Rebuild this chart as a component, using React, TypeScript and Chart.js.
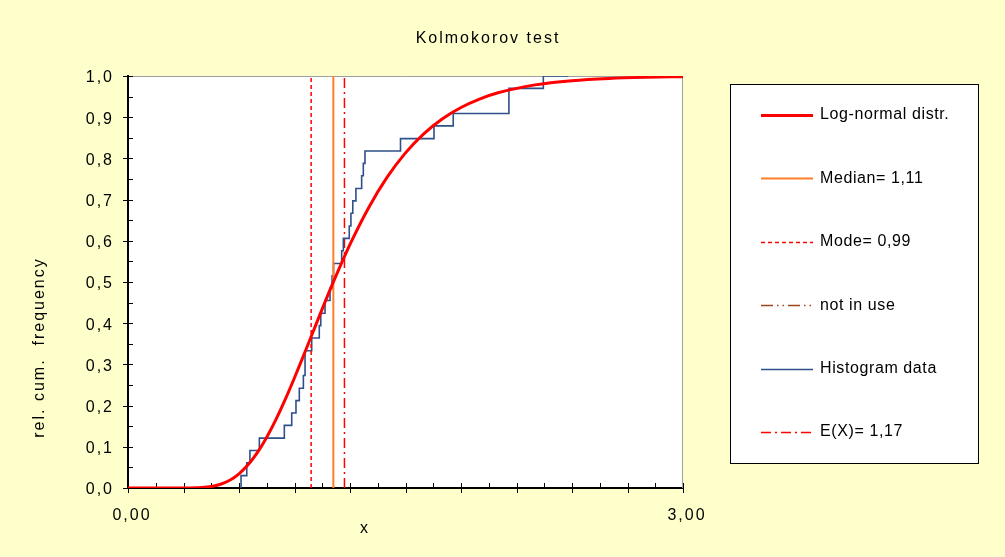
import React, { useEffect, useRef } from 'react';
import { Chart, registerables } from 'chart.js';

Chart.register(...registerables);

const FONT = "'Liberation Sans', Arial, sans-serif";

const titleText = 'Kolmokorov test';
const xAxisTitle = 'x';
const yAxisTitle = 'rel. cum.  frequency';

// Log-normal cumulative distribution
const logNormalX = [0, 0.1, 0.2, 0.3, 0.4, 0.45, 0.5, 0.55, 0.6, 0.65, 0.7, 0.75, 0.8, 0.85, 0.9, 0.95, 1.0, 1.05, 1.1, 1.2, 1.3, 1.4, 1.5, 1.6, 1.7, 1.8, 1.9, 2.0, 2.2, 2.4, 2.6, 2.8, 3.0];
const logNormalY = [0, 0, 0, 0.0001, 0.0013, 0.0038, 0.0092, 0.0189, 0.0345, 0.0568, 0.0864, 0.1232, 0.1665, 0.215, 0.2676, 0.3227, 0.3788, 0.4347, 0.4893, 0.5911, 0.6798, 0.7538, 0.8134, 0.8602, 0.8962, 0.9236, 0.9441, 0.9592, 0.9785, 0.9887, 0.9941, 0.9969, 0.9984];

// Histogram data: step positions and cumulative relative frequencies
const histX = [0.611, 0.611, 0.642, 0.659, 0.71, 0.845, 0.885, 0.908, 0.926, 0.948, 0.957, 0.993, 1.034, 1.042, 1.065, 1.092, 1.103, 1.111, 1.155, 1.164, 1.196, 1.205, 1.215, 1.232, 1.263, 1.272, 1.281, 1.473, 1.654, 1.758, 2.059, 2.245, 2.38];
const histY = [0, 0.03, 0.061, 0.091, 0.121, 0.152, 0.182, 0.212, 0.242, 0.273, 0.333, 0.364, 0.394, 0.424, 0.455, 0.485, 0.515, 0.545, 0.576, 0.606, 0.636, 0.667, 0.697, 0.727, 0.758, 0.788, 0.818, 0.848, 0.879, 0.909, 0.97, 1.0, 1.0];

const medianX = 1.11;
const modeX = 0.99;
const meanX = 1.17;
const vLineY = [0, 1];

const xLabelValues = [0, 3];

const legendLabels = ['Log-normal distr.', 'Median= 1,11', 'Mode= 0,99', 'not in use', 'Histogram data', 'E(X)= 1,17'];

const W = 1005;
const H = 557;

const excelPlugin = {
  id: 'excelLook',
  beforeDraw(chart: any) {
    const { ctx, chartArea: a } = chart;
    ctx.save();
    ctx.fillStyle = '#FFFFCC';
    ctx.fillRect(0, 0, chart.width, chart.height);
    ctx.fillStyle = '#FFFFFF';
    ctx.fillRect(a.left, a.top, a.right - a.left, a.bottom - a.top);
    ctx.restore();
    ctx.letterSpacing = '2px';
  },
  beforeDatasetsDraw(chart: any) {
    const { ctx, chartArea: a, scales } = chart;
    const xs = scales.x;
    const ys = scales.y;
    ctx.save();
    ctx.letterSpacing = '0px';
    ctx.strokeStyle = '#A0A0A0';
    ctx.lineWidth = 1;
    ctx.beginPath();
    ctx.moveTo(a.left, a.top + 0.5);
    ctx.lineTo(a.right - 0.5, a.top + 0.5);
    ctx.lineTo(a.right - 0.5, a.bottom);
    ctx.stroke();
    ctx.strokeStyle = '#000';
    ctx.lineWidth = 1;
    for (let i = 0; i <= 20; i++) {
      const px = Math.round(xs.getPixelForValue(i * 0.15)) + 0.5;
      const major = i % 2 === 0;
      ctx.beginPath();
      ctx.moveTo(px, a.bottom - 5);
      ctx.lineTo(px, major ? a.bottom + 5 : a.bottom);
      ctx.stroke();
    }
    for (let i = 0; i <= 20; i++) {
      const py = Math.round(ys.getPixelForValue(i * 0.05)) + 0.5;
      const major = i % 2 === 0;
      ctx.beginPath();
      ctx.moveTo(major ? a.left - 5 : a.left, py);
      ctx.lineTo(a.left + 5, py);
      ctx.stroke();
    }
    ctx.restore();
  },
  afterDraw(chart: any) {
    const { ctx } = chart;
    ctx.save();
    ctx.fillStyle = '#000';
    ctx.font = `16px ${FONT}`;
    ctx.letterSpacing = '2px';
    ctx.textAlign = 'center';
    ctx.textBaseline = 'alphabetic';
    ctx.fillText(titleText, 488, 43);
    ctx.fillText(xAxisTitle, 365, 533);
    ctx.save();
    ctx.translate(44, 347.5);
    ctx.rotate(-Math.PI / 2);
    ctx.fillText(yAxisTitle, 0, 0);
    ctx.restore();

    // legend box
    ctx.letterSpacing = '0px';
    ctx.fillStyle = '#FFFFFF';
    ctx.fillRect(730, 84, 248, 379);
    ctx.strokeStyle = '#000';
    ctx.lineWidth = 1;
    ctx.strokeRect(730.5, 84.5, 248, 379);
    chart.data.datasets.forEach((ds: any, i: number) => {
      const y = 115 + i * 63.4;
      ctx.save();
      ctx.setLineDash(ds.borderDash || []);
      ctx.strokeStyle = ds.borderColor;
      ctx.lineWidth = ds.borderWidth;
      ctx.beginPath();
      ctx.moveTo(761, Math.round(y) + 0.5);
      ctx.lineTo(813, Math.round(y) + 0.5);
      ctx.stroke();
      ctx.restore();
      ctx.letterSpacing = '0.6px';
      ctx.fillStyle = '#000';
      ctx.font = `16px ${FONT}`;
      ctx.textAlign = 'left';
      ctx.textBaseline = 'middle';
      ctx.fillText(ds.label, 820, y);
    });
    ctx.restore();
  },
};

function vLine(x: number) {
  return vLineY.map((y) => ({ x, y }));
}

export default function App() {
  const canvasRef = useRef<HTMLCanvasElement | null>(null);

  useEffect(() => {
    const canvas = canvasRef.current;
    if (!canvas) return;
    const chart = new Chart(canvas, {
      type: 'line',
      data: {
        datasets: [
          {
            label: legendLabels[0],
            data: logNormalX.map((x, i) => ({ x, y: logNormalY[i] })),
            borderColor: '#FF0000',
            borderWidth: 3,
            pointRadius: 0,
            cubicInterpolationMode: 'monotone',
            fill: false,
          },
          {
            label: legendLabels[1],
            data: vLine(medianX),
            borderColor: '#FF7F2A',
            borderWidth: 2,
            pointRadius: 0,
            fill: false,
          },
          {
            label: legendLabels[2],
            data: vLine(modeX),
            borderColor: '#FF0000',
            borderWidth: 1.5,
            borderDash: [4, 3],
            pointRadius: 0,
            fill: false,
          },
          {
            label: legendLabels[3],
            data: [],
            borderColor: '#A0461E',
            borderWidth: 1.5,
            borderDash: [12, 4, 1.5, 4, 1.5, 4],
            pointRadius: 0,
            fill: false,
          },
          {
            label: legendLabels[4],
            data: histX.map((x, i) => ({ x, y: histY[i] })),
            borderColor: '#2F5089',
            borderWidth: 1.6,
            stepped: 'before',
            pointRadius: 0,
            fill: false,
          },
          {
            label: legendLabels[5],
            data: vLine(meanX),
            borderColor: '#FF0000',
            borderWidth: 1.5,
            borderDash: [10, 4, 2, 4],
            pointRadius: 0,
            fill: false,
          },
        ],
      },
      options: {
        responsive: false,
        animation: false,
        events: [],
        layout: { padding: { left: 0, right: W - 683, top: 76, bottom: 0 } },
        plugins: {
          legend: { display: false },
          title: { display: false },
          tooltip: { enabled: false },
        },
        scales: {
          x: {
            type: 'linear',
            position: 'bottom',
            min: 0,
            max: 3,
            grid: { display: false, drawTicks: false },
            border: { display: true, color: '#000', width: 2 },
            ticks: {
              color: '#000',
              font: { size: 16, family: FONT },
              padding: 18,
              labelOffset: 4,
              maxRotation: 0,
              autoSkip: false,
              callback: (v: any) => Number(v).toFixed(2).replace('.', ','),
            },
            afterBuildTicks: (scale: any) => {
              scale.ticks = xLabelValues.map((v) => ({ value: v }));
            },
            afterFit: (scale: any) => {
              scale.height = H - 488;
            },
          },
          y: {
            type: 'linear',
            min: 0,
            max: 1,
            grid: { display: false, drawTicks: false },
            border: { display: true, color: '#000', width: 2 },
            ticks: {
              stepSize: 0.1,
              color: '#000',
              font: { size: 16, family: FONT },
              padding: 14,
              labelOffset: 2,
              autoSkip: false,
              callback: (v: any) => Number(v).toFixed(1).replace('.', ','),
            },
            afterFit: (scale: any) => {
              scale.width = 128;
            },
          },
        },
      },
      plugins: [excelPlugin],
    } as any);
    return () => chart.destroy();
  }, []);

  return (
    <div style={{ position: 'fixed', left: 0, top: 0, width: W, height: H, background: '#FFFFCC' }}>
      <canvas ref={canvasRef} width={W} height={H} style={{ display: 'block', width: W, height: H }} />
    </div>
  );
}
